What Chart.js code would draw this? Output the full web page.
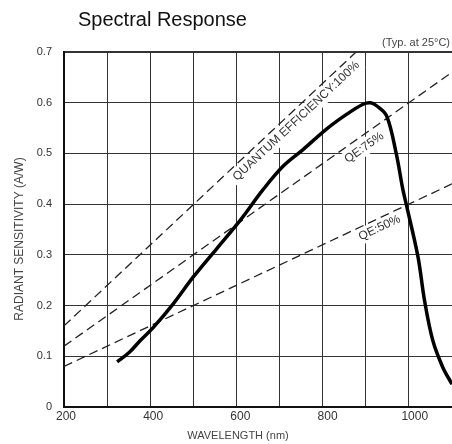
<!DOCTYPE html>
<html>
<head>
<meta charset="utf-8">
<script src="https://cdn.jsdelivr.net/npm/chart.js@4.4.1/dist/chart.umd.min.js"></script>
<style>
  html, body { margin: 0; padding: 0; background: #fff; }
  #wrap { width: 452px; height: 444px; }
</style>
</head>
<body>
<div id="wrap"><canvas id="chart"></canvas></div>
<script>
// measured response curve (typ. at 25 C)
const wavelength = [322, 350, 375, 405, 451, 497, 551, 604, 657, 703, 749, 802, 848, 886, 903, 917, 940, 962, 977, 985, 1012, 1027, 1046, 1069, 1090];
const sensitivity = [0.089, 0.108, 0.131, 0.157, 0.204, 0.257, 0.313, 0.368, 0.429, 0.475, 0.508, 0.548, 0.577, 0.597, 0.600, 0.594, 0.574, 0.50, 0.43, 0.40, 0.296, 0.21, 0.131, 0.078, 0.045];

// quantum efficiency reference lines (end points)
const qe100Wavelength = [200, 870];
const qe100 = [0.16, 0.70];
const qeWavelength = [200, 1090];
const qe75 = [0.12, 0.66];
const qe50 = [0.08, 0.44];

const qeLabels = ['QUANTUM EFFICIENCY:100%', 'QE:75%', 'QE:50%'];
const qeLabelAt = [718, 874, 915];

const xTicks = [200, 400, 600, 800, 1000];
const yTicks = [0, 0.1, 0.2, 0.3, 0.4, 0.5, 0.6, 0.7];

const FONT = "'Liberation Sans', Arial, sans-serif";

function pts(xs, ys) {
    return xs.map((v, i) => ({x: v, y: ys[i]}));
}

function tickText(list, v) {
    const t = list.find(k => Math.abs(k - v) < 1e-6);
    return t === undefined ? '' : String(t);
}

const qeSets = [
    {wl: qe100Wavelength, val: qe100, offset: 9.5},
    {wl: qeWavelength, val: qe75, offset: 11},
    {wl: qeWavelength, val: qe50, offset: 9},
];

const textPlugin = {
    id: 'textPlugin',
    afterDatasetsDraw(chart) {
        const {ctx, scales: {x, y}} = chart;
        ctx.save();
        ctx.font = '12px ' + FONT;
        ctx.textAlign = 'center';
        ctx.textBaseline = 'middle';
        qeSets.forEach((s, i) => {
            const x0 = x.getPixelForValue(s.wl[0]), y0 = y.getPixelForValue(s.val[0]);
            const x1 = x.getPixelForValue(s.wl[1]), y1 = y.getPixelForValue(s.val[1]);
            const ang = Math.atan2(y1 - y0, x1 - x0);
            const t = (qeLabelAt[i] - s.wl[0]) / (s.wl[1] - s.wl[0]);
            const len = Math.hypot(x1 - x0, y1 - y0);
            const dx = (x1 - x0) / len, dy = (y1 - y0) / len;
            const px = x0 + (x1 - x0) * t - dy * s.offset;
            const py = y0 + (y1 - y0) * t + dx * s.offset;
            ctx.save();
            ctx.translate(px, py);
            ctx.rotate(ang);
            const w = ctx.measureText(qeLabels[i]).width;
            ctx.fillStyle = '#fff';
            ctx.fillRect(-w / 2 - 3, -8, w + 6, 16);
            ctx.fillStyle = '#333';
            ctx.fillText(qeLabels[i], 0, 0);
            ctx.restore();
        });
        ctx.restore();
    },
    afterDraw(chart) {
        const ctx = chart.ctx;
        const x = chart.scales.x;
        ctx.save();
        ctx.textBaseline = 'middle';

        // x tick labels
        ctx.fillStyle = '#333';
        ctx.textAlign = 'center';
        ctx.font = '12px ' + FONT;
        xTicks.forEach(v => ctx.fillText(String(v), x.getPixelForValue(v) + 2, 417));

        ctx.fillStyle = '#111';
        ctx.textAlign = 'left';
        ctx.font = '20px ' + FONT;
        ctx.fillText('Spectral Response', 78, 20);

        ctx.fillStyle = '#444';
        ctx.textAlign = 'right';
        ctx.font = '11px ' + FONT;
        ctx.fillText('(Typ. at 25°C)', 450, 43);

        ctx.textAlign = 'center';
        ctx.fillText('WAVELENGTH (nm)', 238, 436);

        ctx.translate(20, 239);
        ctx.rotate(-Math.PI / 2);
        ctx.font = '12px ' + FONT;
        ctx.fillText('RADIANT SENSITIVITY (A/W)', 0, 0);
        ctx.restore();
    }
};

const qeStyle = {
    borderColor: '#222',
    borderWidth: 1.3,
    borderDash: [9, 5],
    pointRadius: 0,
    fill: false,
};

const config = {
    type: 'line',
    data: {
        datasets: [
            {
                label: 'Spectral response',
                data: pts(wavelength, sensitivity),
                borderColor: '#000',
                borderWidth: 3.5,
                pointRadius: 0,
                tension: 0.35,
                fill: false,
            },
            Object.assign({label: 'QE 100%', data: pts(qe100Wavelength, qe100)}, qeStyle),
            Object.assign({label: 'QE 75%', data: pts(qeWavelength, qe75)}, qeStyle),
            Object.assign({label: 'QE 50%', data: pts(qeWavelength, qe50)}, qeStyle),
        ],
    },
    options: {
        responsive: true,
        maintainAspectRatio: false,
        animation: false,
        layout: {
            padding: {top: 52, left: 0, right: 0, bottom: 0}
        },
        plugins: {
            legend: {display: false},
            tooltip: {enabled: false},
            title: {display: false},
        },
        scales: {
            x: {
                type: 'linear',
                min: 200,
                max: 1090,
                afterFit: (scale) => { scale.height = 37; },
                border: {display: true, width: 2, color: '#111'},
                grid: {
                    color: '#333',
                    lineWidth: 1,
                    drawTicks: false,
                },
                ticks: {
                    stepSize: 100,
                    includeBounds: false,
                    display: false,
                },
            },
            y: {
                min: 0,
                max: 0.7,
                afterFit: (scale) => { scale.width = 64; },
                border: {display: true, width: 2, color: '#111'},
                grid: {
                    color: '#333',
                    lineWidth: (c) => (c.tick && c.tick.value > 0.69) ? 2 : 1,
                    drawTicks: false,
                },
                ticks: {
                    stepSize: 0.1,
                    padding: 12,
                    color: '#333',
                    font: {family: FONT, size: 11},
                    callback: (v) => tickText(yTicks, v),
                },
            },
        },
    },
    plugins: [textPlugin],
};

new Chart(document.getElementById('chart'), config);
</script>
</body>
</html>
